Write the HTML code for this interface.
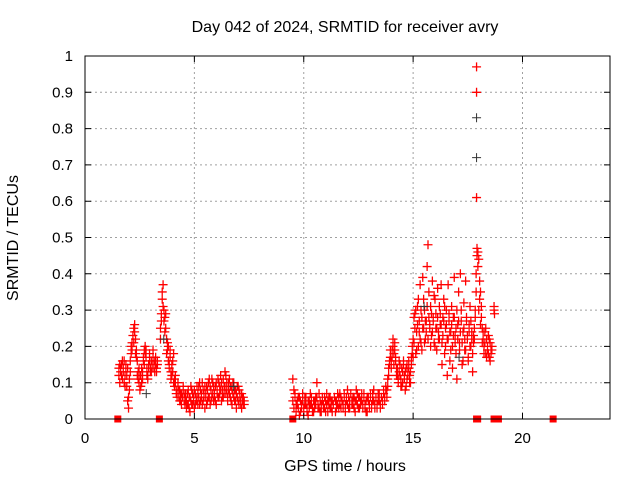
<!DOCTYPE html>
<html><head><meta charset="utf-8"><style>
body{margin:0;background:#fff}
svg{display:block;font-family:"Liberation Sans",sans-serif;font-size:15px}
.big{font-size:16px}
</style></head><body>
<svg id="chart" width="640" height="480" viewBox="0 0 640 480">
<rect width="640" height="480" fill="#fff"/>
<text class="big" x="345" y="32" text-anchor="middle">Day 042 of 2024, SRMTID for receiver avry</text>
<text class="big" transform="translate(18,238) rotate(-90)" text-anchor="middle">SRMTID / TECUs</text>
<text class="big" x="345" y="471" text-anchor="middle">GPS time / hours</text>
<g id="grid"></g><g id="marks"></g><g id="axes"></g>
</svg>
<script>
const xTicks=[0,5,10,15,20];
const yTicks=[0,0.1,0.2,0.3,0.4,0.5,0.6,0.7,0.8,0.9,1];
const yTickLabels=["0","0.1","0.2","0.3","0.4","0.5","0.6","0.7","0.8","0.9","1"];
const segStarts=[1.55,1.55,3.45,3.45,4.6,4.6,9.5,9.5,13.8,13.8,15.0,15.0,17.8,17.8];
const segSteps=[0.04,0.04,0.04,0.04,0.04,0.04,0.05,0.05,0.04,0.04,0.04,0.04,0.04,0.04];
const segA=[0.12,0.10,0.14,0.15,0.11,0.13,0.16,0.12,0.14,0.09,0.05,0.03,0.08,0.13,0.18,0.21,0.23,0.25,0.26,0.22,0.19,0.16,0.13,0.10,0.12,0.09,0.14,0.11,0.16,0.19,0.20,0.17,0.14,0.12,0.15,0.16,0.14,0.13,0.15,0.17,0.14,0.16,0.15,0.13,0.16];
const segA2=[0.14,0.15,0.13,0.12,0.16,0.14,0.10,0.09,0.15,0.12,0.14,0.06,0.11,0.16,0.20,0.19,0.23,0.21,0.24,0.18,0.17,0.12,0.11,0.14,0.08,0.12,0.10,0.13,0.17,0.15,0.18,0.19,0.12,0.11,0.14,0.18,0.13,0.16,0.14,0.19,0.15,0.13,0.17,0.14,0.15];
const segB=[0.22,0.27,0.33,0.37,0.30,0.28,0.25,0.22,0.19,0.20,0.15,0.17,0.13,0.12,0.16,0.18,0.11,0.10,0.08,0.07,0.09,0.06,0.08,0.05,0.07,0.06,0.08,0.05,0.07];
const segB2=[0.25,0.29,0.35,0.31,0.27,0.24,0.29,0.18,0.21,0.16,0.14,0.19,0.11,0.15,0.13,0.10,0.09,0.12,0.07,0.06,0.10,0.08,0.05,0.07,0.04,0.06,0.09,0.06,0.04];
const segC=[0.05,0.03,0.07,0.04,0.06,0.02,0.05,0.08,0.04,0.06,0.03,0.07,0.05,0.09,0.04,0.06,0.10,0.05,0.07,0.04,0.08,0.06,0.03,0.07,0.09,0.05,0.06,0.11,0.04,0.08,0.06,0.10,0.05,0.07,0.09,0.04,0.08,0.06,0.10,0.07,0.12,0.05,0.08,0.06,0.09,0.13,0.07,0.10,0.05,0.08,0.11,0.06,0.09,0.04,0.07,0.10,0.05,0.08,0.03,0.06,0.09,0.04,0.07,0.05,0.03,0.06,0.04,0.05];
const segC2=[0.07,0.05,0.04,0.08,0.03,0.06,0.09,0.04,0.07,0.05,0.08,0.04,0.06,0.05,0.07,0.09,0.04,0.08,0.06,0.10,0.05,0.07,0.09,0.06,0.04,0.08,0.10,0.06,0.09,0.05,0.11,0.07,0.09,0.06,0.05,0.10,0.07,0.11,0.06,0.09,0.08,0.10,0.06,0.11,0.07,0.09,0.12,0.08,0.06,0.10,0.07,0.09,0.05,0.08,0.10,0.06,0.08,0.05,0.07,0.09,0.05,0.08,0.06,0.04,0.07,0.05,0.06,0.04];
const segD=[0.11,0.08,0.06,0.04,0.05,0.03,0.06,0.02,0.04,0.05,0.03,0.06,0.04,0.02,0.05,0.03,0.07,0.04,0.02,0.05,0.03,0.06,0.10,0.04,0.03,0.05,0.02,0.06,0.04,0.03,0.05,0.07,0.02,0.04,0.06,0.03,0.05,0.04,0.06,0.02,0.05,0.07,0.03,0.04,0.06,0.05,0.03,0.07,0.04,0.06,0.08,0.03,0.05,0.07,0.04,0.06,0.03,0.05,0.08,0.04,0.06,0.03,0.05,0.07,0.04,0.06,0.03,0.05,0.02,0.06,0.04,0.07,0.03,0.05,0.08,0.04,0.06,0.03,0.05,0.07,0.04,0.06,0.05,0.08,0.06,0.09];
const segD2=[0.05,0.03,0.07,0.02,0.04,0.06,0.01,0.05,0.03,0.07,0.02,0.04,0.06,0.03,0.01,0.05,0.04,0.06,0.03,0.02,0.05,0.04,0.06,0.03,0.07,0.02,0.04,0.05,0.03,0.06,0.02,0.04,0.05,0.06,0.03,0.05,0.02,0.04,0.06,0.05,0.03,0.04,0.06,0.07,0.03,0.05,0.04,0.06,0.02,0.05,0.04,0.06,0.03,0.07,0.05,0.04,0.06,0.02,0.05,0.07,0.03,0.06,0.04,0.05,0.03,0.07,0.04,0.02,0.06,0.05,0.03,0.06,0.04,0.07,0.05,0.03,0.06,0.04,0.07,0.05,0.03,0.06,0.04,0.07,0.05,0.08];
const segE=[0.06,0.09,0.12,0.15,0.17,0.16,0.19,0.20,0.18,0.21,0.17,0.14,0.12,0.10,0.13,0.15,0.11,0.09,0.13,0.16,0.12,0.08,0.14,0.11,0.13,0.16,0.12,0.10,0.15,0.18];
const segE2=[0.08,0.11,0.14,0.16,0.19,0.14,0.17,0.22,0.15,0.19,0.16,0.12,0.14,0.11,0.16,0.12,0.09,0.14,0.10,0.15,0.11,0.13,0.09,0.15,0.12,0.14,0.10,0.13,0.17,0.20];
const segF=[0.22,0.28,0.25,0.30,0.19,0.26,0.33,0.24,0.37,0.21,0.28,0.39,0.25,0.30,0.22,0.27,0.42,0.48,0.35,0.26,0.31,0.23,0.38,0.28,0.34,0.20,0.29,0.25,0.36,0.22,0.31,0.26,0.37,0.21,0.28,0.33,0.18,0.25,0.30,0.22,0.37,0.27,0.16,0.24,0.31,0.20,0.28,0.39,0.23,0.18,0.30,0.26,0.35,0.21,0.40,0.27,0.15,0.24,0.32,0.19,0.38,0.28,0.22,0.17,0.26,0.31,0.20,0.24,0.18,0.21];
const segF2=[0.17,0.21,0.29,0.18,0.24,0.31,0.20,0.27,0.22,0.30,0.19,0.25,0.33,0.21,0.27,0.24,0.31,0.22,0.28,0.25,0.20,0.29,0.24,0.27,0.21,0.33,0.25,0.19,0.28,0.24,0.22,0.29,0.26,0.15,0.23,0.27,0.31,0.20,0.26,0.12,0.22,0.29,0.24,0.19,0.26,0.14,0.23,0.28,0.21,0.25,0.11,0.22,0.27,0.19,0.24,0.30,0.21,0.16,0.25,0.22,0.19,0.27,0.23,0.16,0.24,0.20,0.27,0.22,0.13,0.23];
const segG=[0.25,0.30,0.40,0.47,0.46,0.44,0.38,0.35,0.28,0.25,0.22,0.20,0.24,0.18,0.22,0.19,0.23,0.17,0.21,0.19,0.20];
const segG2=[0.22,0.28,0.35,0.45,0.42,0.30,0.33,0.26,0.31,0.21,0.24,0.18,0.21,0.25,0.17,0.20,0.18,0.22,0.16,0.18,0.19];
const segValues=[segA,segA2,segB,segB2,segC,segC2,segD,segD2,segE,segE2,segF,segF2,segG,segG2];
const extraHours=[17.9,17.9,17.9,18.7,18.7,18.72];
const extraValues=[0.97,0.90,0.61,0.31,0.30,0.29];
const zeroHours=[1.5,3.4,9.5,17.9,17.95,18.7,18.8,18.9,21.4];
const blackHours=[2.8,3.6,6.8,15.5,17.1,17.9,17.9];
const blackValues=[0.07,0.22,0.09,0.31,0.17,0.83,0.72];

const X0=85,X1=610,Y0=419,Y1=56,XMAX=24;
const xs=h=>X0+(X1-X0)*h/XMAX;
const ys=v=>Y0-(Y0-Y1)*v;
const NS="http://www.w3.org/2000/svg";
const grid=document.getElementById('grid'),marks=document.getElementById('marks'),axes=document.getElementById('axes');
function mk(tag,attrs,parent){const e=document.createElementNS(NS,tag);for(const k in attrs)e.setAttribute(k,attrs[k]);parent.appendChild(e);return e;}
xTicks.forEach(t=>{
  if(t>0){const g=mk('line',{x1:xs(t),x2:xs(t),y1:Y0,y2:Y1,stroke:'#a0a0a0','stroke-dasharray':'2,3'},grid);
  
  }
  const tk=mk('path',{d:`M${xs(t)},${Y0}v-6M${xs(t)},${Y1}v6`,stroke:'#000'},axes);
  
  
  const lb=mk('text',{x:xs(t),y:Y0+24,'text-anchor':'middle'},axes);lb.textContent=t;
  
  
});
yTicks.forEach((t,i)=>{
  if(i>0&&i<yTicks.length-1){const g=mk('line',{x1:X0,x2:X1,y1:ys(t),y2:ys(t),stroke:'#a0a0a0','stroke-dasharray':'2,3'},grid);
  
  }
  const tk=mk('path',{d:`M${X0},${ys(t)}h6M${X1},${ys(t)}h-6`,stroke:'#000'},axes);
  
  
  const lb=mk('text',{x:X0-12,y:ys(t)+5,'text-anchor':'end'},axes);lb.textContent=yTickLabels[i];
  
  
});
const border=mk('rect',{x:X0,y:Y1,width:X1-X0,height:Y0-Y1,fill:'none',stroke:'#000'},axes);


let dRed='',dBlack='',dZero='';
const cross=(h,v)=>{const x=xs(h),y=ys(v);return `M${x-4.5},${y}h9M${x},${y-4.5}v9`;};
segValues.forEach((arr,s)=>arr.forEach((v,i)=>{dRed+=cross(segStarts[s]+i*segSteps[s],v);}));
extraHours.forEach((h,i)=>{dRed+=cross(h,extraValues[i]);});
blackHours.forEach((h,i)=>{dBlack+=cross(h,blackValues[i]);});
zeroHours.forEach(h=>{const x=xs(h),y=ys(0);dZero+=`M${x-3.5},${y-3.5}h7v7h-7z`;});
const red=mk('path',{d:dRed,stroke:'#ff0000','stroke-width':1.3,fill:'none'},marks);


const blk=mk('path',{d:dBlack,stroke:'#333','stroke-width':1,fill:'none'},marks);


const zr=mk('path',{d:dZero,fill:'#ff0000'},marks);


</script>
</body></html>
